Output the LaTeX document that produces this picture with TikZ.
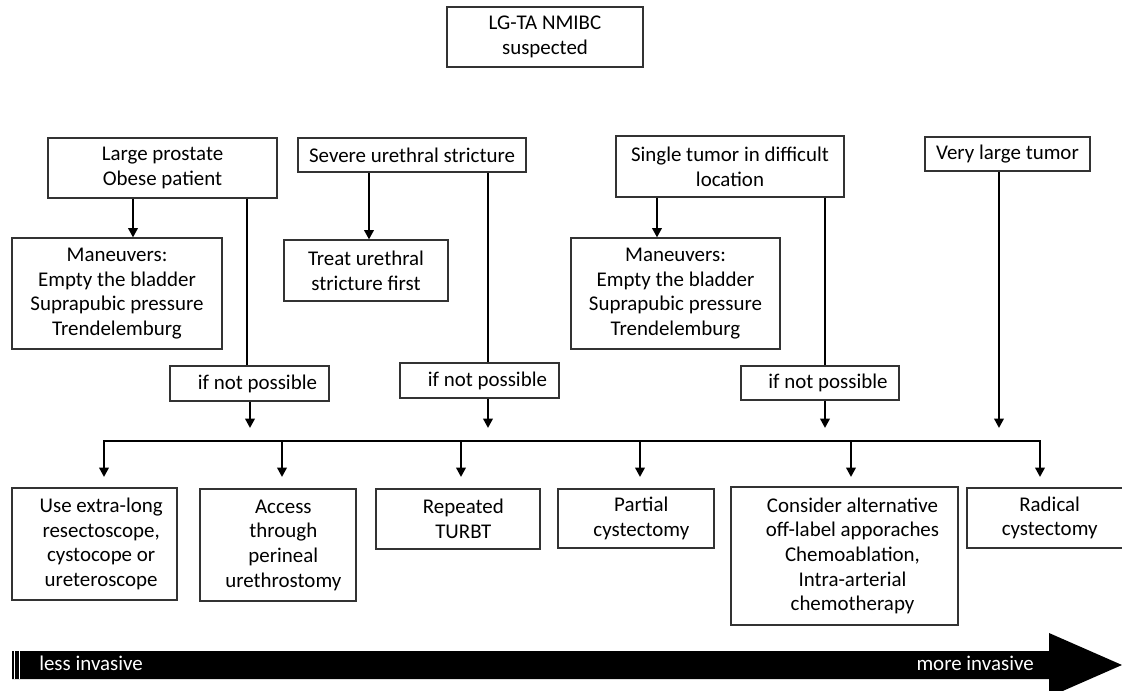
\documentclass[tikz,border=0pt]{standalone}
\usepackage{fontspec}
\setmainfont{Carlito}
\usetikzlibrary{arrows.meta}
\tikzset{
  box/.style={draw=black!80, line width=0.8pt, inner sep=0pt, align=center, font=\fontsize{15.7}{18.5}\selectfont},
  conn/.style={line width=2pt, draw=black},
  arr/.style={conn, -{Triangle[width=7pt,length=7pt]}},
  bartext/.style={text=white, font=\fontsize{15.7}{18.5}\selectfont, inner sep=0pt}
}
\newcommand{\bx}[6]{\node[box, minimum width={(#4-#2)*0.75pt}, minimum height={(#5-#3)*0.75pt}] (#1) at ({(#2+#4)/2},{(#3+#5)/2}) {#6};}
\begin{document}
\begin{tikzpicture}[x=0.75pt,y=-0.75pt]
\useasboundingbox (0,0) rectangle (1122,691);
\begin{scope}
\clip (0,0) rectangle (1122,691);
% top
\bx{top}{447}{7}{643}{67}{LG-TA NMIBC\\suspected}
% second row
\bx{lp}{48}{138}{277}{198}{Large prostate\\Obese patient}
\bx{sev}{298}{138}{526}{172}{Severe urethral stricture}
\bx{st}{616}{136}{844}{197}{Single tumor in difficult\\location}
\bx{vlt}{925}{137}{1090}{171}{Very large tumor}
% third row
\bx{man1}{12}{238}{222}{349}{Maneuvers:\\Empty the bladder\\Suprapubic pressure\\Trendelemburg}
\bx{treat}{284}{240}{448}{301}{Treat urethral\\stricture first}
\bx{man2}{571}{238}{780}{349}{Maneuvers:\\Empty the bladder\\Suprapubic pressure\\Trendelemburg}
% if not possible
\bx{if1}{170}{366}{329}{401}{\hspace{12pt}if not possible}
\bx{if2}{400}{363}{559}{398}{\hspace{12pt}if not possible}
\bx{if3}{741}{366}{899}{400}{\hspace{12pt}if not possible}
% bottom boxes
\bx{b1}{12}{488}{177}{600}{\hspace{10pt}Use extra-long\\\hspace{10pt}resectoscope,\\\hspace{10pt}cystocope or\\\hspace{10pt}ureteroscope}
\bx{b2}{200}{489}{356}{601}{\hspace{8pt}Access\\\hspace{8pt}through\\\hspace{8pt}perineal\\\hspace{8pt}urethrostomy}
\bx{b3}{376}{489}{540}{549}{\hspace{8pt}Repeated\\\hspace{8pt}TURBT}
\bx{b4}{558}{489}{714}{548}{\hspace{8pt}Partial\\\hspace{8pt}cystectomy}
\bx{b5}{731}{487}{958}{625}{\hspace{12pt}Consider alternative\\\hspace{12pt}off-label apporaches\\\hspace{12pt}Chemoablation,\\\hspace{12pt}Intra-arterial\\\hspace{12pt}chemotherapy}
\bx{b6}{967}{488}{1127}{548}{\hspace{4pt}Radical\\\hspace{4pt}cystectomy}
% connectors
\draw[arr] (lp.south -| 133,0) -- (man1.north -| 133,0);
\draw[conn] (lp.south -| 247,0) -- (if1.north -| 247,0);
\draw[arr] (if1.south -| 250,0) -- (250,428);
\draw[arr] (sev.south -| 369,0) -- (treat.north -| 369,0);
\draw[conn] (sev.south -| 488,0) -- (if2.north -| 488,0);
\draw[arr] (if2.south -| 488,0) -- (488,428);
\draw[arr] (st.south -| 657,0) -- (man2.north -| 657,0);
\draw[conn] (st.south -| 825,0) -- (if3.north -| 825,0);
\draw[arr] (if3.south -| 825,0) -- (825,428);
\draw[arr] (vlt.south -| 999,0) -- (999,428);
% bus
\coordinate (busL) at (104,441);
\coordinate (busR) at (1040,441);
\draw[conn, line cap=rect] (busL) -- (busR);
\draw[arr] (busL) -- (104,477);
\draw[arr] (282,441) -- (282,477);
\draw[arr] (461,441) -- (461,477);
\draw[arr] (640,441) -- (640,477);
\draw[arr] (851,441) -- (851,477);
\draw[arr] (busR) -- (1040,477);
% invasive arrow
\fill[black] (12,651) -- (1049,651) -- (1049,633) -- (1122,665) -- (1049,697) -- (1049,679) -- (12,679) -- cycle;
\draw[white, line width=0.8pt] (14.8,651) -- (14.8,679);
\draw[white, line width=0.8pt] (19.3,651) -- (19.3,679);
\node[bartext, anchor=base west] (less) at (39,671) {less invasive};
\node[bartext, anchor=base east] (more) at (1034,670) {more invasive};
\end{scope}
\end{tikzpicture}
\end{document}
